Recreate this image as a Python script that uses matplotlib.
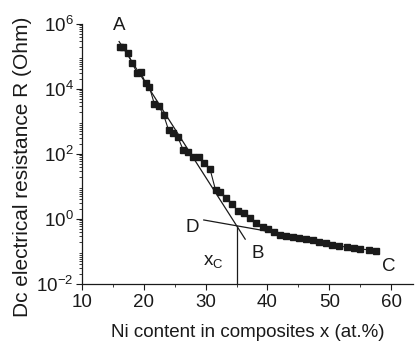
import numpy as np
import matplotlib
matplotlib.use("Agg")
import matplotlib.pyplot as plt
from matplotlib.ticker import MultipleLocator, LogLocator, NullFormatter

plt.rcParams['font.family'] = ['Liberation Sans', 'DejaVu Sans']
plt.rcParams['mathtext.default'] = 'regular'

# Ni content (at.%) and dc resistance (Ohm)
ni_content = [16.1, 16.6, 17.4, 18.1, 18.9, 19.5, 20.3, 20.9, 21.7, 22.4,
              23.2, 24.0, 24.8, 25.5, 26.4, 27.2, 28.0, 28.9, 29.8, 30.7,
              31.6, 32.4, 33.3, 34.25, 35.2, 36.2, 37.2, 38.2, 39.2, 40.1,
              41.0, 42.0, 43.0, 44.1, 45.1, 46.2, 47.3, 48.4, 49.4, 50.5,
              51.6, 52.9, 54.0, 55.0, 56.4, 57.5]
resistance = [1.95e5, 1.95e5, 1.3e5, 6.3e4, 3.2e4, 3.3e4, 1.5e4, 1.15e4, 3.5e3, 3.0e3,
              1.6e3, 550, 450, 330, 130, 115, 81, 81, 52, 35,
              7.8, 6.9, 4.4, 2.9, 1.8, 1.5, 1.05, 0.74, 0.58, 0.49,
              0.41, 0.33, 0.30, 0.275, 0.257, 0.24, 0.22, 0.20, 0.178, 0.162,
              0.148, 0.135, 0.126, 0.12, 0.112, 0.105]

# guide lines: steep fit (A-B), flat fit (D), threshold x_c
fit_ab_x = [16.0, 36.4]
fit_ab_y = [10**5.46, 10**-0.62]
fit_d_x = [29.7, 42.2]
fit_d_y = [10**-0.03, 10**-0.45]
x_c = 35.0
x_c_top = 10**-0.23

fig = plt.figure(figsize=(4.15, 3.42), dpi=100)
ax = fig.add_axes([0.1976, 0.1696, 0.7969, 0.7602])

ax.plot(ni_content, resistance, color='#1a1a1a', lw=0.8, marker='s',
        markersize=3.8, markerfacecolor='#1a1a1a', markeredgecolor='#1a1a1a')
ax.plot(fit_ab_x, fit_ab_y, color='#1a1a1a', lw=0.9)
ax.plot(fit_d_x, fit_d_y, color='#1a1a1a', lw=0.9)
ax.plot([x_c, x_c], [1e-2, x_c_top], color='#1a1a1a', lw=0.9)

ax.set_yscale('log')
ax.set_xlim(10, 63.5)
ax.set_ylim(1e-2, 1e6)

ax.xaxis.set_major_locator(MultipleLocator(10))
ax.xaxis.set_minor_locator(MultipleLocator(5))
ax.set_yticks([1e-2, 1e0, 1e2, 1e4, 1e6])
ax.yaxis.set_minor_locator(LogLocator(base=10, subs=np.arange(2, 10), numticks=20))
ax.yaxis.set_minor_formatter(NullFormatter())

for s in ['top', 'right']:
    ax.spines[s].set_visible(False)
for s in ['left', 'bottom']:
    ax.spines[s].set_linewidth(0.9)
    ax.spines[s].set_color('#1a1a1a')

ax.tick_params(which='major', direction='out', length=4, width=0.8,
               labelsize=13.5, colors='#1a1a1a', pad=2)
ax.tick_params(axis='x', which='major', pad=3.5)
ax.tick_params(which='minor', direction='out', length=2.5, width=0.6, colors='#1a1a1a')

ax.set_xlabel('Ni content in composites x (at.%)', fontsize=13.5, color='#1a1a1a', labelpad=9)
ax.set_ylabel('Dc electrical resistance R (Ohm)', fontsize=15, color='#1a1a1a')
ax.yaxis.set_label_coords(-0.15, 0.45)

txt = dict(fontsize=13.5, color='#1a1a1a', ha='center', va='center')
ax.text(16.1, 10**5.95, 'A', **txt)
ax.text(27.8, 10**-0.25, 'D', **txt)
ax.text(38.4, 10**-1.05, 'B', **txt)
ax.text(31.3, 10**-1.3, 'x$_C$', **txt)
ax.text(59.7, 10**-1.45, 'C', **txt)

fig.savefig('out.png', dpi=100)
